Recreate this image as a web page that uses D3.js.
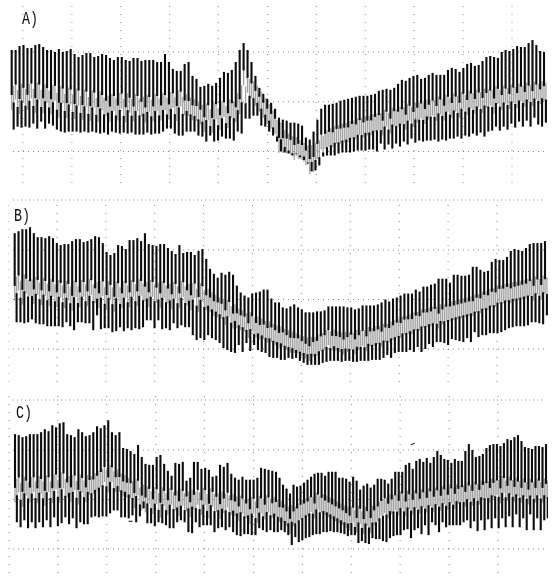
<!DOCTYPE html>
<head>
    <meta charset="utf-8">
    <title>Traces A B C</title>
    <script src="https://d3js.org/d3.v7.min.js"></script>
    <style>
        body { margin: 0; background: #fff; }
        svg { display: block; }
    </style>
</head>
<body>
    <script>
        // values, one per beat, deflection above the lowest grid line
        const topsA = [102,102,106,107,104,104,107,108,105,102,102,100,103,100,101,103,98,95,97,99,
            99,95,96,98,97,94,92,95,95,92,91,94,94,91,92,92,92,90,90,98,
            90,83,81,81,88,90,76,73,65,66,68,66,69,74,80,79,82,90,102,109,
            102,90,76,64,58,53,49,43,34,32,31,29,29,28,26,14,12,20,32,43,
            47,47,48,49,51,52,53,54,55,56,56,56,57,58,61,62,63,62,64,68,
            72,71,74,76,77,73,74,77,79,77,77,77,82,84,83,80,84,88,89,86,
            87,91,95,96,95,94,100,102,101,103,106,105,105,109,112,107,101,100]
        const bottomsA = [22,25,24,25,24,28,23,30,23,28,26,22,20,19,20,20,20,19,20,19,
            20,19,18,19,17,20,19,18,19,18,19,17,17,17,19,17,18,18,20,23,
            23,18,16,16,20,20,20,16,15,10,16,10,11,15,13,13,11,20,18,33,
            33,36,36,26,25,20,16,10,0,-1,-2,-4,-2,-4,-5,-12,-20,-19,-14,-5,
            -4,-4,-4,-2,-1,-1,-1,0,1,1,1,2,2,0,8,2,7,3,8,5,
            10,7,13,9,11,10,11,11,12,10,12,11,13,13,15,13,16,15,18,16,
            19,15,20,21,25,21,25,22,28,24,30,25,31,25,34,27,25,29]
        const midsA = [54,57,53,56,55,58,54,57,53,55,52,55,50,53,49,52,48,51,47,50,
            46,49,45,48,46,44,47,45,48,44,46,44,47,45,43,46,44,47,45,48,
            46,49,46,50,47,45,42,40,37,34,37,34,38,36,40,38,42,44,52,66,
            66,62,56,50,44,38,32,25,14,10,8,6,3,2,0,-4,-8,-6,2,9,
            12,14,15,17,18,19,20,22,23,25,25,26,27,29,30,29,32,31,34,35,
            36,35,38,37,39,41,40,42,44,43,45,44,47,46,48,47,50,49,51,50,
            52,51,53,54,52,55,54,56,55,57,56,58,57,59,58,60,59,60]

        const topsB = [117,119,121,121,123,117,113,113,112,114,112,107,105,106,106,109,111,111,108,109,
            111,114,113,107,98,95,97,105,104,101,110,110,112,109,117,106,105,104,106,106,
            102,99,96,105,97,98,98,95,99,101,91,81,76,72,77,75,78,75,64,57,
            54,52,56,57,58,60,60,51,47,47,42,41,43,45,42,40,37,37,37,38,
            38,39,43,43,43,43,43,42,42,40,41,44,44,44,44,45,47,50,48,51,
            52,54,56,56,56,60,58,63,63,65,66,71,71,71,67,75,75,74,74,75,
            83,83,80,78,79,88,91,90,90,93,99,101,100,99,102,106,107,107,107,109]
        const bottomsB = [27,27,26,27,30,26,25,25,23,23,23,23,22,27,23,19,27,27,26,26,
            19,34,20,21,21,17,18,22,18,21,19,21,20,22,29,29,21,29,20,21,
            19,26,21,24,22,22,14,9,11,9,14,11,9,6,1,-1,-3,-4,4,-3,
            6,-2,4,-1,-3,-4,-8,-9,-9,-11,-11,-9,-10,-9,-12,-14,-16,-16,-16,-16,
            -14,-13,-12,-12,-12,-13,-12,-12,-13,-13,-12,-12,-12,-11,-11,-11,-9,-6,-9,-4,
            -3,-3,-3,-1,-3,2,-3,0,5,2,7,7,6,4,10,9,8,7,11,7,
            17,12,14,14,16,16,16,17,19,21,22,23,23,23,24,27,27,26,25,34]
        const midsB = [61,64,60,63,62,59,61,58,60,57,59,56,58,55,57,54,58,56,59,57,
            60,57,55,58,54,56,53,57,55,58,56,59,57,60,58,56,59,57,55,58,
            56,54,57,55,58,55,53,56,52,54,50,47,44,42,40,37,38,33,31,29,
            27,24,25,22,20,19,17,16,14,12,11,9,7,6,5,3,1,0,2,4,
            7,9,11,9,8,7,6,7,8,7,9,11,10,12,13,14,14,16,17,19,
            21,22,24,25,26,28,29,31,32,33,34,33,35,37,38,39,40,41,42,43,
            44,46,47,49,50,52,53,55,56,57,57,58,59,60,61,62,61,63,62,64]

        const topsC = [116,115,113,114,116,116,116,118,121,119,125,123,127,128,116,115,113,121,118,114,
            115,118,124,122,125,130,118,115,118,102,101,99,96,105,93,86,85,85,93,95,
            86,79,74,87,86,88,69,72,88,88,81,82,80,73,74,85,83,87,76,72,
            70,73,70,70,70,72,82,81,80,79,78,72,65,61,56,65,63,64,67,70,
            73,76,77,77,74,78,78,78,72,72,71,68,73,69,60,64,66,62,65,71,
            71,70,66,71,78,78,78,85,87,81,89,91,88,92,87,93,99,95,91,90,
            87,91,89,89,99,106,100,93,94,96,102,105,106,106,104,107,111,110,113,115,
            109,103,102,101,104,104,103,106]
        const bottomsC = [27,22,29,21,27,21,27,22,29,22,32,23,26,32,25,31,21,27,25,25,
            32,33,32,33,33,36,39,39,32,32,31,34,27,33,41,26,26,23,27,26,
            24,21,21,27,29,27,17,16,27,22,24,24,24,17,21,22,19,22,17,14,
            13,15,15,14,14,21,19,17,19,17,17,19,17,14,4,12,7,9,11,12,
            14,15,15,17,17,18,17,17,16,15,13,14,14,6,8,6,5,11,10,10,
            8,7,11,13,14,14,19,20,11,19,21,15,24,14,27,24,17,27,22,24,
            24,24,24,27,29,21,28,18,29,19,30,21,31,21,31,22,33,22,35,22,
            31,19,35,19,31,19,29,31]
        const midsC = [59,62,58,61,60,63,60,62,59,63,61,65,62,66,63,61,64,60,63,61,
            64,66,69,72,74,71,73,69,67,64,62,60,56,58,52,50,52,49,51,47,
            50,48,51,49,47,50,48,46,49,51,48,50,46,49,47,44,46,48,45,43,
            41,43,41,39,42,40,43,42,44,42,41,38,36,33,30,33,36,39,41,43,
            45,44,47,46,44,42,40,38,36,34,32,31,33,30,32,29,31,30,34,38,
            42,44,43,45,47,46,48,46,48,47,49,48,50,49,51,50,52,51,53,52,
            54,53,55,56,55,57,56,58,57,59,60,59,61,62,60,63,61,62,60,61,
            59,60,58,60,59,61,59,60]

        const labelA = "A)"
        const labelB = "B)"
        const labelC = "C)"

        // grid divisions, 50 deflection units apart
        const gridLevels = [0, 50, 100]
        const gridDivisions = d3.range(0, 11)
        const speckBeats = [31, 109]
        const speckLevels = [28, 106]

        const width = 557
        const height = 580

        const panels = [
            { label: labelA, tops: topsA, bottoms: bottomsA, mids: midsA, knee: 68, xr: [11.7, 279, 544],
              yr: [151.5, 52], labelAt: [22, 24], gridX: [23, 512], gridY: [6, 190] },
            { label: labelB, tops: topsB, bottoms: bottomsB, mids: midsB, knee: 69, xr: [14.7, 279, 545],
              yr: [349, 250], labelAt: [14, 221], gridX: [8, 497], gridY: [205, 386] },
            { label: labelC, tops: topsC, bottoms: bottomsC, mids: midsC, knee: 70, xr: [15, 276, 546],
              yr: [549, 450], labelAt: [16, 418], gridX: [9, 498], gridY: [396, 580] }
        ]

        const vis = d3.select("body").append("svg")
            .attr("width", width)
            .attr("height", height)

        // soften everything a little, the reference is a scan
        vis.append("defs").append("filter")
            .attr("id", "scan")
            .attr("x", 0).attr("y", 0).attr("width", 1).attr("height", 1)
            .append("feGaussianBlur")
            .attr("stdDeviation", 0.45)

        const root = vis.append("g").attr("filter", "url(#scan)")

        panels.forEach((p) => {
            const n = p.tops.length
            const x = d3.scaleLinear().domain([0, p.knee, n - 1]).range(p.xr)
            const y = d3.scaleLinear().domain([0, 100]).range(p.yr)
            const gx = d3.scaleLinear().domain([0, 10]).range(p.gridX)
            const beats = d3.range(n)
            const g = root.append("g")

            // how far a beat's band sits off its neighbours, makes the band edge ragged
            const off = (i) => 1.5 * (p.mids[i] - (p.mids[Math.max(i - 1, 0)] + p.mids[Math.min(i + 1, n - 1)]) / 2)

            g.selectAll("line.h")
                .data(gridLevels)
                .join("line")
                    .attr("class", "h")
                    .attr("x1", 13)
                    .attr("x2", 544)
                    .attr("y1", (d) => y(d))
                    .attr("y2", (d) => y(d))
                    .attr("stroke", "#8a8a8a")
                    .attr("stroke-dasharray", "1 4")

            g.selectAll("line.v")
                .data(gridDivisions)
                .join("line")
                    .attr("class", "v")
                    .attr("x1", (d) => gx(d))
                    .attr("x2", (d) => gx(d))
                    .attr("y1", p.gridY[0])
                    .attr("y2", p.gridY[1])
                    .attr("stroke", "#8a8a8a")
                    .attr("stroke-dasharray", "1 7")

            // grey thin part of each stroke, running through the band
            g.selectAll("line.pale")
                .data(beats)
                .join("line")
                    .attr("class", "pale")
                    .attr("x1", (i) => x(i))
                    .attr("x2", (i) => x(i))
                    .attr("y1", (i) => y(p.mids[i] + 9 + off(i)))
                    .attr("y2", (i) => y(p.mids[i] - 10 + off(i)))
                    .attr("stroke", "#a2a2a2")
                    .attr("stroke-width", 1.3)

            g.selectAll("line.pale2")
                .data(beats)
                .join("line")
                    .attr("class", "pale2")
                    .attr("x1", (i) => x(i + 0.5))
                    .attr("x2", (i) => x(i + 0.5))
                    .attr("y1", (i) => y(p.mids[i] + 10 - off(i)))
                    .attr("y2", (i) => y(p.mids[i] - 9 - off(i)))
                    .attr("stroke", "#a2a2a2")
                    .attr("stroke-width", 1.3)

            g.selectAll("line.up")
                .data(beats)
                .join("line")
                    .attr("class", "up")
                    .attr("x1", (i) => x(i))
                    .attr("x2", (i) => x(i))
                    .attr("y1", (i) => y(p.tops[i]))
                    .attr("y2", (i) => y(p.mids[i] + 5 + off(i)))
                    .attr("stroke", "#0c0c0c")
                    .attr("stroke-width", 2.1)

            g.selectAll("line.down")
                .data(beats)
                .join("line")
                    .attr("class", "down")
                    .attr("x1", (i) => x(i + 0.5))
                    .attr("x2", (i) => x(i + 0.5))
                    .attr("y1", (i) => y(p.mids[i] - 7 - off(i)))
                    .attr("y2", (i) => y(p.bottoms[i]))
                    .attr("stroke", "#0c0c0c")
                    .attr("stroke-width", 2.1)

            g.append("text")
                .text(p.label)
                .attr("x", p.labelAt[0])
                .attr("y", p.labelAt[1])
                .attr("font-family", "'Liberation Mono', monospace")
                .attr("font-size", 18)
                .attr("textLength", 16)
                .attr("lengthAdjust", "spacingAndGlyphs")
                .attr("fill", "#111")

            if (p.label === labelC) {
                g.selectAll("line.speck")
                    .data(speckBeats)
                    .join("line")
                        .attr("class", "speck")
                        .attr("x1", (d) => x(d) - 2)
                        .attr("x2", (d) => x(d) + 2)
                        .attr("y1", (d, i) => y(speckLevels[i]) + (i ? 1 : 0))
                        .attr("y2", (d, i) => y(speckLevels[i]) - (i ? 1 : 0))
                        .attr("stroke", "#333")
                        .attr("stroke-width", 1.2)
            }
        })

        // upper grid rows shared between neighbouring traces
        const rows = [200, 400]
        root.selectAll("line.row")
            .data(rows)
            .join("line")
                .attr("class", "row")
                .attr("x1", 13)
                .attr("x2", 544)
                .attr("y1", (d) => d)
                .attr("y2", (d) => d)
                .attr("stroke", "#8a8a8a")
                .attr("stroke-dasharray", "1 3")
    </script>
</body>
